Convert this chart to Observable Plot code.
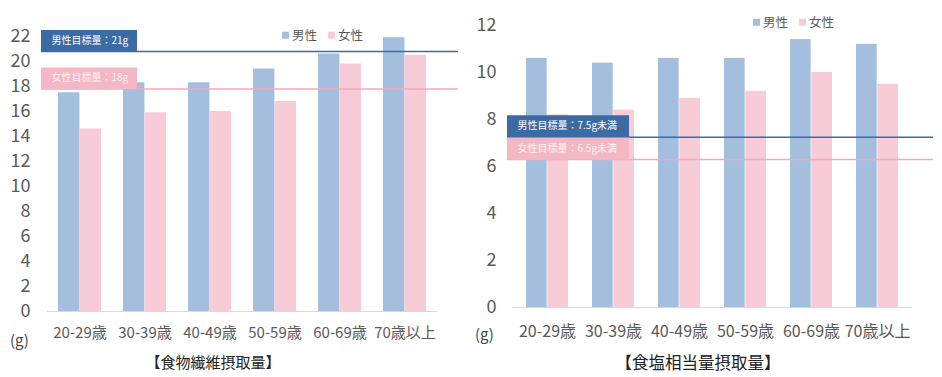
<!DOCTYPE html>
<html>
<head>
<meta charset="utf-8">
<script src="https://cdn.jsdelivr.net/npm/d3@7"></script>
<script src="https://cdn.jsdelivr.net/npm/@observablehq/plot@0.6"></script>
<style>
  html, body { margin: 0; padding: 0; background: #fff; }
  #wrap { position: relative; width: 942px; height: 377px; overflow: hidden; font-family: "Noto Sans CJK JP", "Noto Sans", sans-serif; }
  .panel { position: absolute; top: 0; }
  .ov { position: absolute; white-space: nowrap; line-height: 1; }
  .title { color: #222; transform: translate(-50%, -50%); }
  .unit { color: #444; transform: translateY(-50%); }
  .legend { color: #595959; font-size: 12.5px; display: flex; align-items: center; transform: translateY(-50%); }
  .sw { display: inline-block; width: 7px; height: 7px; margin-right: 3px; }
</style>
</head>
<body>
<div id="wrap"></div>
<script>
// ---- data ----
const ageGroups = ["20-29歳", "30-39歳", "40-49歳", "50-59歳", "60-69歳", "70歳以上"];
const sexes = ["男性", "女性"];

// 食物繊維摂取量 (g)
const fiberMale   = [17.5, 18.3, 18.3, 19.4, 20.6, 21.9];
const fiberFemale = [14.6, 15.9, 16.0, 16.8, 19.8, 20.5];
const fiberTargetLabels = ["男性目標量：21g", "女性目標量：18g"];
const fiberTargetValues = [20.8, 17.8];
const fiberTicks = [0, 2, 4, 6, 8, 10, 12, 14, 16, 18, 20, 22];

// 食塩相当量摂取量 (g)
const saltMale   = [10.6, 10.4, 10.6, 10.6, 11.4, 11.2];
const saltFemale = [8.2, 8.4, 8.9, 9.2, 10.0, 9.5];
const saltTargetLabels = ["男性目標量：7.5g未満", "女性目標量：6.5g未満"];
const saltTargetValues = [7.25, 6.3];
const saltTicks = [0, 2, 4, 6, 8, 10, 12];

const titles = ["【食物繊維摂取量】", "【食塩相当量摂取量】"];
const unitLabel = "(g)";

// ---- styles ----
const C = {
  maleBar: "#a4bedd", femaleBar: "#f7ccd7",
  maleLine: "#3d6ba5", femaleLine: "#f2aabb",
  maleBox: "#3c6ba4", femaleBox: "#f4b7c5",
  tick: "#595959"
};

function makeChart(cfg) {
  const {male, female, targets, labels, ticks, yMax, width, height, ml, mr, mt, mb,
         pi, po, yFont, xFont, yPad, xPad, lineInL, lineInR, boxInR, boxH, textDx} = cfg;
  const rows = ageGroups.map((g, i) => ({g, male: male[i], female: female[i]}));
  const plotW = width - ml - mr;
  const step = plotW / (ageGroups.length - pi + 2 * po);
  const half = step * (1 - pi) / 2;
  const tgt = targets.map((v, i) => ({v, label: labels[i], i}));
  return Plot.plot({
    width, height,
    marginLeft: ml, marginRight: mr, marginTop: mt, marginBottom: mb,
    style: {fontFamily: '"Noto Sans CJK JP", "Noto Sans", sans-serif', background: "transparent"},
    x: {domain: ageGroups, paddingInner: pi, paddingOuter: po, label: null},
    y: {domain: [0, yMax], label: null},
    marks: [
      Plot.barY(rows, {x: "g", y: "male", fill: C.maleBar, insetRight: half}),
      Plot.barY(rows, {x: "g", y: "female", fill: C.femaleBar, insetLeft: half}),
      Plot.ruleY([0], {stroke: "#d9d9d9", strokeWidth: 1}),
      Plot.ruleY(tgt, {y: "v", stroke: d => d.i === 0 ? C.maleLine : C.femaleLine, strokeWidth: 1.5,
        insetLeft: lineInL, insetRight: lineInR}),
      Plot.ruleY(tgt, {y: "v", stroke: d => d.i === 0 ? C.maleBox : C.femaleBox, strokeWidth: boxH,
        dy: -boxH / 2, insetLeft: lineInL, insetRight: boxInR}),
      Plot.text(tgt, {y: "v", text: "label", frameAnchor: "left", textAnchor: "start",
        dx: textDx, dy: -boxH / 2, fill: d => d.i === 0 ? "#ffffff" : "#fdf0f3", fontSize: 10}),
      Plot.axisY({ticks, tickSize: 0, tickPadding: yPad, fontSize: yFont, color: C.tick, label: null}),
      Plot.axisX({tickSize: 0, tickPadding: xPad, fontSize: xFont, color: C.tick, label: null})
    ]
  });
}

const wrap = document.getElementById("wrap");

function addPanel(left, chart, ov) {
  const p = document.createElement("div");
  p.className = "panel";
  p.style.left = left + "px";
  p.appendChild(chart);
  wrap.appendChild(p);
  const t = document.createElement("div");
  t.className = "ov title"; t.textContent = ov.title;
  t.style.left = ov.tx + "px"; t.style.top = ov.ty + "px"; t.style.fontSize = ov.tf + "px";
  wrap.appendChild(t);
  const u = document.createElement("div");
  u.className = "ov unit"; u.textContent = unitLabel;
  u.style.left = ov.ux + "px"; u.style.top = ov.uy + "px"; u.style.fontSize = ov.uf + "px";
  wrap.appendChild(u);
  const l = document.createElement("div");
  l.className = "ov legend";
  l.style.left = ov.lx + "px"; l.style.top = ov.ly + "px";
  l.innerHTML = `<span class="sw" style="background:${C.maleBar}"></span><span>${sexes[0]}</span>` +
    `<span class="sw" style="background:${C.femaleBar};margin-left:11px"></span><span>${sexes[1]}</span>`;
  wrap.appendChild(l);
}

const left = makeChart({
  male: fiberMale, female: fiberFemale, targets: fiberTargetValues, labels: fiberTargetLabels,
  ticks: fiberTicks, yMax: 22, width: 470, height: 377, ml: 47, mr: 33, mt: 36, mb: 66,
  pi: 0.34, po: 0.15, yFont: 18, xFont: 15, yPad: 17, xPad: 16,
  lineInL: -6, lineInR: -21, boxInR: 300, boxH: 21.5, textDx: 4
});
addPanel(0, left, {title: titles[0], tx: 213, ty: 361, tf: 15, ux: 10, uy: 339, uf: 15, lx: 282, ly: 35});

const right = makeChart({
  male: saltMale, female: saltFemale, targets: saltTargetValues, labels: saltTargetLabels,
  ticks: saltTicks, yMax: 12, width: 472, height: 377, ml: 42, mr: 30, mt: 25, mb: 70,
  pi: 0.36, po: 0.18, yFont: 18, xFont: 16, yPad: 16, xPad: 18,
  lineInL: -5, lineInR: -21, boxInR: 283, boxH: 22, textDx: 5
});
addPanel(470, right, {title: titles[1], tx: 698, ty: 362, tf: 16.5, ux: 475, uy: 333, uf: 15, lx: 753, ly: 22});
</script>
</body>
</html>
